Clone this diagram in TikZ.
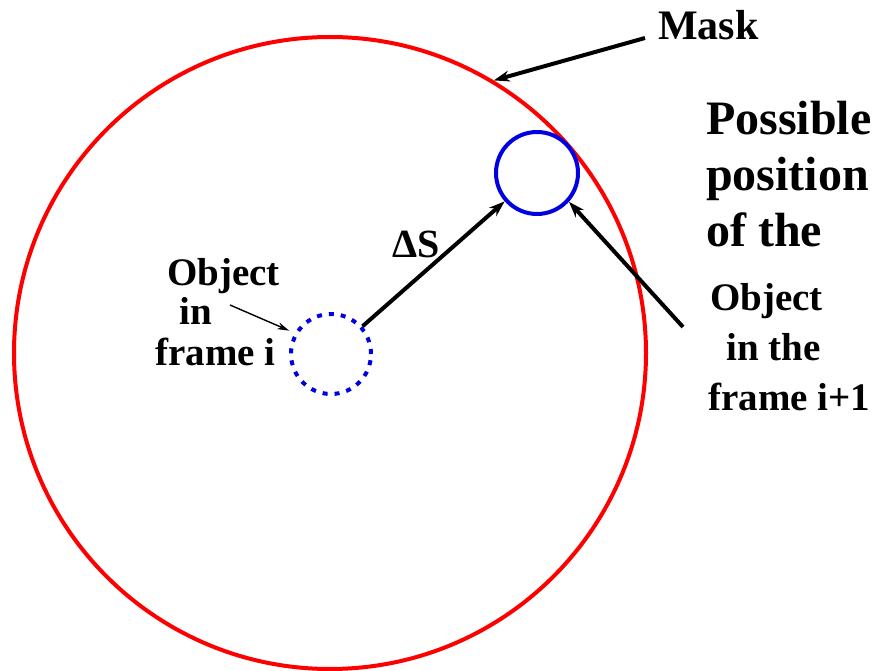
\documentclass[tikz,border=0pt]{standalone}
\usepackage{fontspec}
\setmainfont{Liberation Serif}
\usepackage{xcolor}
\usepackage{tikz}
\usetikzlibrary{arrows.meta}
\definecolor{maskred}{RGB}{255,0,0}
\definecolor{objblue}{RGB}{0,0,225}

\begin{document}
\begin{tikzpicture}[x=1pt, y=-1pt,
    ring/.style={circle, draw, inner sep=0pt, line width=4pt},
    lbl/.style={inner sep=0pt, align=left, font=\bfseries\fontsize{39}{50}\selectfont},
    arr/.style={-{Stealth[length=16pt, width=11pt]}, line width=4pt},
    thinarr/.style={-{Stealth[length=12pt, width=7pt]}, line width=1.4pt}]
  \useasboundingbox (0,0) rectangle (879,671);
  \node[ring, draw=maskred, minimum size=632pt] (mask) at (330,353) {};
  \node[ring, draw=objblue, dash pattern=on 5pt off 7pt, minimum size=80pt] (prev) at (331,354) {};
  \node[ring, draw=objblue, minimum size=82pt] (next) at (537,173) {};

  \node[lbl, anchor=base west, font=\bfseries\fontsize{42}{50}\selectfont] (masklbl) at (658,40) {Mask};
  \node[lbl, anchor=base west, font=\bfseries\fontsize{48}{56}\selectfont] (possible) at (706,247) {Possible\\position\\of the};
  \node[lbl, anchor=base west, font=\bfseries\fontsize{39}{40}\selectfont] (prevlbl) at (155,365) {\hspace*{12pt}Object\\\hspace*{24pt}in\\frame i};
  \node[lbl, anchor=base west] (nextlbl) at (708,410) {\hspace*{2pt}Object\\\hspace*{18pt}in the\\frame i+1};
  \node[lbl, anchor=base west, font=\bfseries\fontsize{40}{48}\selectfont] (dslbl) at (392,258) {ΔS};

  \coordinate (maskfrom) at (645,38);
  \coordinate (nextfrom) at (683,327);
  \coordinate (prevfrom) at (230,305);

  \draw[arr] (maskfrom) -- (mask.59.5);
  \draw[arr] (prev) -- (next);
  \draw[arr] (nextfrom) -- (next.-42);
  \draw[thinarr, shorten >=6pt] (prevfrom) -- (prev.150);
\end{tikzpicture}
\end{document}
